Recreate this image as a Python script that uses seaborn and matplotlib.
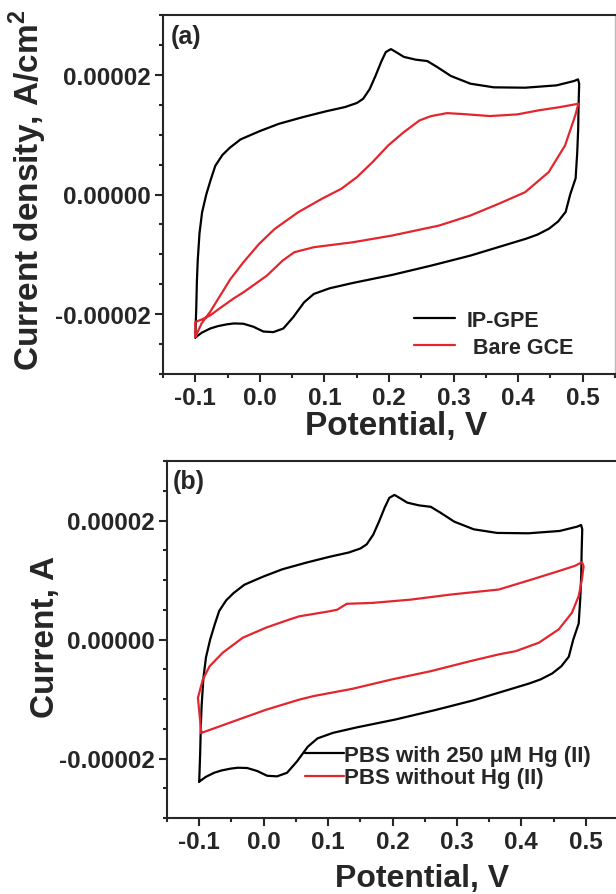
import numpy as np
import pandas as pd
import matplotlib
matplotlib.use("Agg")
import matplotlib.pyplot as plt
import seaborn as sns
from matplotlib.ticker import MultipleLocator, FuncFormatter

# ---------------- data (potential in V, current in units of 1e-5) ----------------
ipgpe_fwd_E = [-0.1000, -0.0985, -0.0975, -0.0962, -0.0935, -0.0895, -0.0830, -0.0760, -0.0690,
               -0.0580, -0.0467, -0.0300, -0.0130, 0.0000, 0.0290, 0.0655, 0.1018, 0.1321, 0.1503,
               0.1600, 0.1700, 0.1790, 0.1880, 0.1950, 0.2030, 0.2109, 0.2230, 0.2412, 0.2594,
               0.2745, 0.2958, 0.3261, 0.3624, 0.4109, 0.4594, 0.4867, 0.4927, 0.4945]
ipgpe_fwd_I = [-2.39, -1.90, -1.45, -1.10, -0.65, -0.30, 0.00, 0.25, 0.48,
               0.66, 0.78, 0.92, 1.00, 1.06, 1.18, 1.29, 1.389, 1.462, 1.53,
               1.60, 1.76, 1.98, 2.22, 2.38, 2.43, 2.38, 2.30, 2.254, 2.23,
               2.131, 1.981, 1.852, 1.791, 1.785, 1.824, 1.897, 1.925, 1.852]
ipgpe_rev_E = [0.4935, 0.4930, 0.4915, 0.4890, 0.4806, 0.4736, 0.4620, 0.4480, 0.4300, 0.4120,
               0.3707, 0.3261, 0.2655, 0.2048, 0.1442, 0.1079, 0.0836, 0.0685, 0.0517, 0.0363,
               0.0208, 0.0054, -0.0100, -0.0255, -0.0400, -0.0511, -0.0650, -0.0769, -0.0900, -0.1000]
ipgpe_rev_I = [1.45, 1.10, 0.70, 0.27, 0.00, -0.29, -0.45, -0.57, -0.67, -0.74,
               -0.875, -1.021, -1.188, -1.344, -1.478, -1.568, -1.662, -1.802, -2.05, -2.24,
               -2.30, -2.29, -2.21, -2.16, -2.155, -2.17, -2.20, -2.24, -2.31, -2.39]

bare_fwd_E = [-0.1000, -0.0900, -0.0769, -0.0620, -0.0460, -0.0255, -0.0012, 0.0230, 0.0594,
              0.0958, 0.1261, 0.1503, 0.1745, 0.1988, 0.2230, 0.2473, 0.2650, 0.2897, 0.3139,
              0.3564, 0.3988, 0.4315, 0.4655, 0.4933]
bare_fwd_I = [-2.38, -2.15, -1.96, -1.70, -1.42, -1.133, -0.826, -0.575, -0.296,
              -0.073, 0.095, 0.290, 0.541, 0.820, 1.043, 1.238, 1.31, 1.36, 1.345,
              1.311, 1.339, 1.406, 1.462, 1.517]
bare_rev_E = [0.4885, 0.4727, 0.4473, 0.4109, 0.3697, 0.3261, 0.2776, 0.2048, 0.1442, 0.0836,
              0.0533, 0.0352, 0.0109, -0.0255, -0.0409, -0.0618, -0.0769, -0.0900, -0.1000, -0.1000]
bare_rev_I = [1.322, 0.820, 0.374, 0.039, -0.156, -0.351, -0.519, -0.686, -0.798, -0.881,
              -0.965, -1.105, -1.356, -1.635, -1.74, -1.90, -2.02, -2.09, -2.13, -2.38]

pbs_fwd_E = [-0.0967, -0.1020, -0.0943, -0.0839, -0.0633, -0.0324, 0.0039, 0.0400, 0.0554,
             0.1000, 0.1140, 0.1290, 0.1690, 0.2290, 0.2900, 0.3650, 0.4166, 0.4580, 0.4837, 0.4940]
pbs_fwd_I = [-1.57, -0.98, -0.67, -0.45, -0.22, 0.03, 0.20, 0.336, 0.39,
             0.47, 0.50, 0.60, 0.615, 0.671, 0.755, 0.84, 1.01, 1.15, 1.24, 1.30]
pbs_rev_E = [0.4966, 0.4940, 0.4890, 0.4785, 0.4580, 0.4270, 0.3910, 0.3650, 0.3207, 0.2600,
             0.1990, 0.1380, 0.0775, 0.0554, 0.0039, -0.0324, -0.0735, -0.0967]
pbs_rev_I = [1.23, 1.01, 0.73, 0.45, 0.17, -0.055, -0.197, -0.25, -0.364, -0.531,
             -0.671, -0.828, -0.951, -1.01, -1.18, -1.32, -1.48, -1.57]

x_ticks = [-0.1, 0.0, 0.1, 0.2, 0.3, 0.4, 0.5]
y_ticks = [-0.00002, 0.0, 0.00002]
SCALE = 1e-5

# ---------------- style ----------------
sns.set_style("ticks")
plt.rcParams["font.family"] = ["Liberation Sans", "DejaVu Sans"]
plt.rcParams["font.weight"] = "bold"
plt.rcParams["axes.labelweight"] = "bold"
plt.rcParams["mathtext.fontset"] = "custom"
plt.rcParams["mathtext.rm"] = "Liberation Sans"
plt.rcParams["mathtext.bf"] = "Liberation Sans:bold"

BLACK = "#000000"
RED = "#e3262e"


def loop_frame(fwd_E, fwd_I, rev_E, rev_I, name):
    E = list(fwd_E) + list(rev_E)
    I = [v * SCALE for v in list(fwd_I) + list(rev_I)]
    return pd.DataFrame({"E": E, "I": I, "series": name})


fig = plt.figure(figsize=(6.16, 8.95), dpi=100)
W, H = 616.0, 895.0
ax_a = fig.add_axes([163 / W, 1 - 375 / H, 452 / W, 359 / H])
ax_b = fig.add_axes([167 / W, 1 - 819 / H, 451 / W, 357 / H])


def style_axis(ax):
    ax.set_xlim(-0.15, 0.55)
    ax.set_ylim(-0.00003, 0.00003)
    ax.set_xticks(x_ticks)
    ax.set_yticks(y_ticks)
    ax.xaxis.set_minor_locator(MultipleLocator(0.05))
    ax.yaxis.set_minor_locator(MultipleLocator(0.000005))
    ax.xaxis.set_major_formatter(FuncFormatter(lambda v, p: f"{v:.1f}".replace("\u2212", "-")))
    ax.yaxis.set_major_formatter(FuncFormatter(lambda v, p: f"{v:.5f}".replace("\u2212", "-")))
    ax.tick_params(which="major", direction="out", length=6, width=1.5, labelsize=17.5, pad=3)
    ax.tick_params(which="minor", direction="out", length=2.7, width=1.5)
    ax.tick_params(top=False, right=False)
    for s in ax.spines.values():
        s.set_linewidth(1.5)
        s.set_visible(True)
    ax.spines["right"].set_color("#bbbbbb")
    ax.spines["right"].set_linewidth(1.0)
    for lab in ax.get_xticklabels() + ax.get_yticklabels():
        lab.set_fontweight("bold")


# ---------------- panel (a) ----------------
df_ip = loop_frame(ipgpe_fwd_E, ipgpe_fwd_I, ipgpe_rev_E, ipgpe_rev_I, "IP-GPE")
df_bare = loop_frame(bare_fwd_E, bare_fwd_I, bare_rev_E, bare_rev_I, "Bare GCE")
sns.lineplot(data=df_ip, x="E", y="I", sort=False, estimator=None, color=BLACK,
             linewidth=1.6, label="IP-GPE", ax=ax_a)
sns.lineplot(data=df_bare, x="E", y="I", sort=False, estimator=None, color=RED,
             linewidth=1.6, label=" Bare GCE", ax=ax_a)
style_axis(ax_a)
ax_a.set_xlabel("Potential, V", fontsize=24, fontweight="bold")
ax_a.set_ylabel(r"Current density, A/cm$^\mathbf{2}$", fontsize=24, fontweight="bold")
ax_a.xaxis.set_label_coords(0.515, -0.10)
ax_a.yaxis.set_label_coords(-0.252, 0.515)
ax_a.text(0.018, 0.975, "(a)", transform=ax_a.transAxes, fontsize=18,
          fontweight="bold", ha="left", va="top")
ax_a.legend(loc="center left", bbox_to_anchor=(0.555, 0.112), frameon=False,
            fontsize=15.5, handlelength=1.9, handletextpad=0.55, labelspacing=0.3,
            borderpad=0, borderaxespad=0)

# ---------------- panel (b) ----------------
df_ip_b = loop_frame(ipgpe_fwd_E, ipgpe_fwd_I, ipgpe_rev_E, ipgpe_rev_I, "with")
df_pbs = loop_frame(pbs_fwd_E, pbs_fwd_I, pbs_rev_E, pbs_rev_I, "without")
sns.lineplot(data=df_ip_b, x="E", y="I", sort=False, estimator=None, color=BLACK,
             linewidth=1.6, label="PBS with 250 \u03bcM Hg (II)", ax=ax_b)
sns.lineplot(data=df_pbs, x="E", y="I", sort=False, estimator=None, color=RED,
             linewidth=1.6, label="PBS without Hg (II)", ax=ax_b)
style_axis(ax_b)
ax_b.set_xlabel("Potential, V", fontsize=23, fontweight="bold")
ax_b.set_ylabel("Current, A", fontsize=24, fontweight="bold")
ax_b.xaxis.set_label_coords(0.565, -0.125)
ax_b.yaxis.set_label_coords(-0.235, 0.51)
ax_b.text(0.013, 0.978, "(b)", transform=ax_b.transAxes, fontsize=18,
          fontweight="bold", ha="left", va="top")
ax_b.legend(loc="center left", bbox_to_anchor=(0.306, 0.144), frameon=False,
            fontsize=16, handlelength=1.75, handletextpad=0.0, labelspacing=0.08,
            borderpad=0, borderaxespad=0)

fig.savefig("out.png", dpi=100)
